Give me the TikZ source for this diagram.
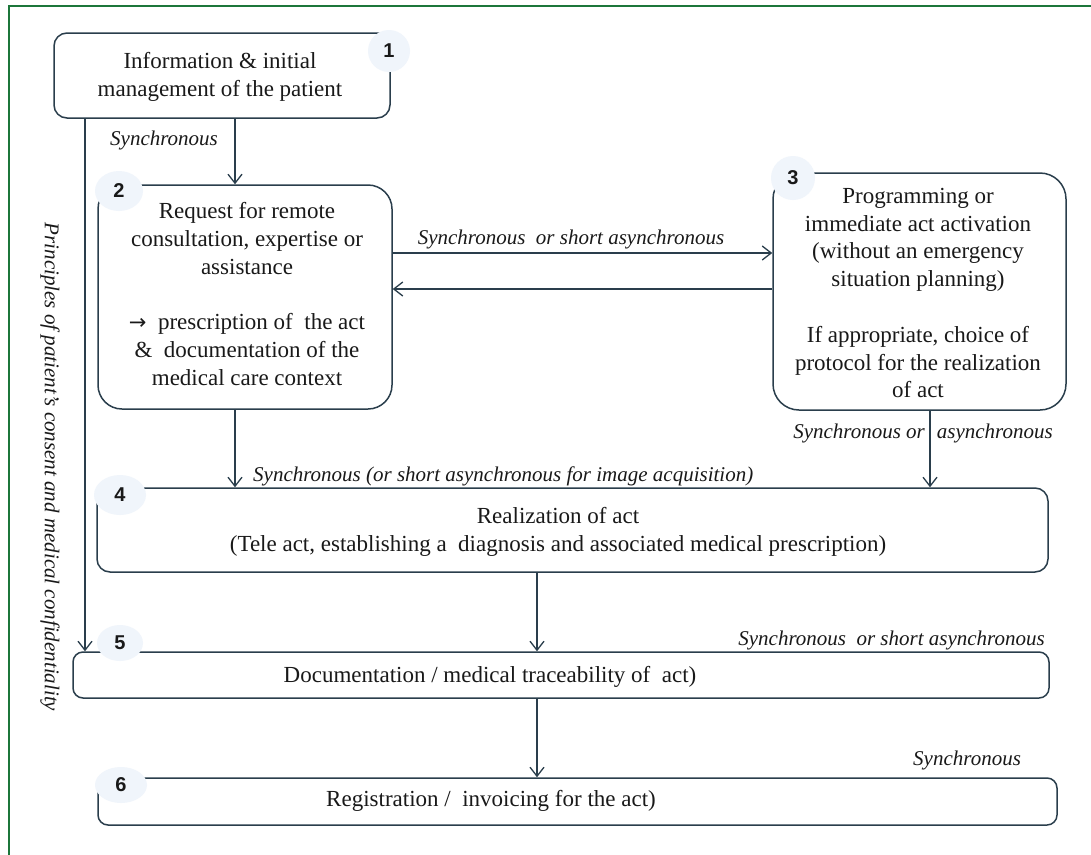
\documentclass[tikz,border=0pt]{standalone}
\usepackage{fontspec}
\setmainfont{Liberation Serif}
\setsansfont{Liberation Sans}
\newfontfamily\arrowfont{DejaVu Sans}
\usetikzlibrary{arrows.meta,shapes.geometric}
\definecolor{edge}{RGB}{42,62,76}
\definecolor{framegreen}{RGB}{28,118,58}
\definecolor{blobblue}{RGB}{240,245,251}
\tikzset{
  box/.style={draw=edge, line width=1.5pt, rounded corners=#1, inner sep=0pt},
  box/.default=12pt,
  txt/.style={font=\fontsize{23}{27.8}\selectfont, align=center, inner sep=0pt, text=black!90},
  lbl/.style={font=\fontsize{21}{25}\selectfont\itshape, inner sep=0pt, text=black!90},
  numblob/.style={ellipse, fill=blobblue, draw=none, inner sep=0pt,
    font=\fontsize{20}{22}\selectfont\sffamily\bfseries, text=black!90},
  arr/.style={draw=edge, line width=1.3pt, -{Straight Barb[length=9pt,width=14pt,line width=1.3pt]}},
}
\begin{document}
\begin{tikzpicture}[x=1pt,y=-1pt]
\useasboundingbox (0,0) rectangle (1091,854);
\fill[white] (0,0) rectangle (1091,854);
% frame
\draw[framegreen, line width=2.6pt] (9,856) -- (9,6) -- (1093,6);

% boxes
\node[box=13pt, minimum width=336pt, minimum height=85pt] (b1) at (222,75.5) {};
\node[box=24pt, minimum width=294pt, minimum height=224pt] (b2) at (245,297) {};
\node[box=26pt, minimum width=293pt, minimum height=237pt] (b3) at (919.5,291.5) {};
\node[box=13pt, minimum width=951pt, minimum height=84pt] (b4) at (572.5,530) {};
\node[box=10pt, minimum width=976pt, minimum height=46pt] (b5) at (561,675) {};
\node[box=10pt, minimum width=959pt, minimum height=47pt] (b6) at (577.5,801.5) {};

% texts
\node[txt] (t1) at (220,77) {Information \& initial\\management of the patient};
\node[txt] (t2) at (247,294) {Request for remote\\consultation, expertise or\\assistance\\[27.8pt]{\arrowfont\fontsize{21}{22}\selectfont →} \ prescription of \ the act\\\& \ documentation of the\\medical care context};
\node[txt] (t3) at (918,293) {Programming or\\immediate act activation\\(without an emergency\\situation planning)\\[27.8pt]If appropriate, choice of\\protocol for the realization\\of act};
\node[txt] (t4) at (558,532) {Realization of act\\(Tele act, establishing a \ diagnosis and associated medical prescription)};
\node[txt] (t5) at (490,677) {Documentation / medical traceability of \ act)};
\node[txt] (t6) at (491,801) {Registration / \ invoicing for the act)};

% number badges
\node[numblob, minimum width=42pt, minimum height=42pt] (n1) at (389,51) {1};
\node[numblob, minimum width=48pt, minimum height=40pt] (n2) at (119,191) {2};
\node[numblob, minimum width=44pt, minimum height=44pt] (n3) at (793,178) {3};
\node[numblob, minimum width=52pt, minimum height=40pt] (n4) at (120,495) {4};
\node[numblob, minimum width=46pt, minimum height=36pt] (n5) at (120,643) {5};
\node[numblob, minimum width=52pt, minimum height=36pt] (n6) at (121,785) {6};

% helper coordinates
\coordinate (xa) at (235,0);
\coordinate (xl) at (85,0);
\coordinate (xb) at (930,0);
\coordinate (xc) at (537,0);
\coordinate (ya) at (0,253);
\coordinate (yb) at (0,289);

% connectors
\draw[arr] (b1.south -| xa) -- (b2.north -| xa);
\draw[arr] (b1.south -| xl) -- (b5.north -| xl);
\draw[arr] (b2.east |- ya) -- (b3.west |- ya);
\draw[arr] (b3.west |- yb) -- (b2.east |- yb);
\draw[arr] (b2.south -| xa) -- (b4.north -| xa);
\draw[arr] (b3.south -| xb) -- (b4.north -| xb);
\draw[arr] (b4.south -| xc) -- (b5.north -| xc);
\draw[arr] (b5.south -| xc) -- (b6.north -| xc);

% labels
\node[lbl, anchor=west] (l12) at (110,140) {Synchronous};
\node[lbl] (l23) at (571,239) {Synchronous \ or short asynchronous};
\node[lbl, anchor=west] (l24) at (253,476) {Synchronous (or short asynchronous for image acquisition)};
\node[lbl, anchor=east] (l34) at (1053,433) {Synchronous or\hspace{12pt}asynchronous};
\node[lbl, anchor=east] (l45) at (1045,640) {Synchronous \ or short asynchronous};
\node[lbl, anchor=west] (l56) at (913,760) {Synchronous};
\node[lbl, rotate=-90] (side) at (50,467) {Principles of patient’s consent and medical confidentiality};
\end{tikzpicture}
\end{document}
